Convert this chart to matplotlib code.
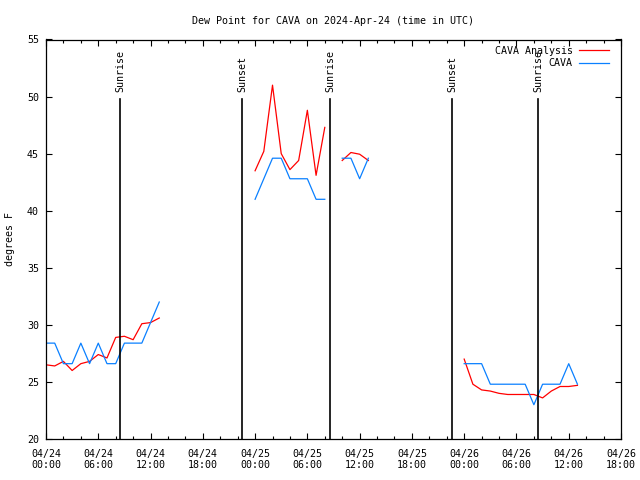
import numpy as np
import matplotlib
matplotlib.use("Agg")
import matplotlib.pyplot as plt
import matplotlib.transforms as mtransforms

# ================ Data (hours since 2024-04-24 00:00 UTC) ================
hours = [0, 1, 2, 3, 4, 5, 6, 7, 8, 9, 10, 11, 12, 13,
         24, 25, 26, 27, 28, 29, 30, 31, 32,
         34, 35, 36, 37,
         48, 49, 50, 51, 52, 53, 54, 55, 56, 57, 58, 59, 60, 61]

# segment ids: lines break between segments
segment = [0] * 14 + [1] * 9 + [2] * 4 + [3] * 14

cava_analysis = [26.5, 26.4, 26.8, 26.0, 26.6, 26.8, 27.4, 27.1, 28.9, 29.0, 28.7, 30.1, 30.2, 30.6,
                 43.5, 45.2, 51.0, 45.0, 43.6, 44.4, 48.8, 43.1, 47.3,
                 44.4, 45.1, 44.95, 44.4,
                 27.0, 24.8, 24.3, 24.2, 24.0, 23.9, 23.9, 23.9, 23.9, 23.6, 24.2, 24.6, 24.6, 24.7]

cava = [28.4, 28.4, 26.6, 26.6, 28.4, 26.6, 28.4, 26.6, 26.6, 28.4, 28.4, 28.4, 30.2, 32.0,
        41.0, 42.8, 44.6, 44.6, 42.8, 42.8, 42.8, 41.0, 41.0,
        44.6, 44.6, 42.8, 44.6,
        26.6, 26.6, 26.6, 24.8, 24.8, 24.8, 24.8, 24.8, 23.0, 24.8, 24.8, 24.8, 26.6, 24.8]

sun_events = [8.53, 22.55, 32.6, 46.64, 56.5]
sun_labels = ["Sunrise", "Sunset", "Sunrise", "Sunset", "Sunrise"]

xtick_hours = list(range(0, 67, 6))
xtick_labels = ["04/24\n00:00", "04/24\n06:00", "04/24\n12:00", "04/24\n18:00",
                "04/25\n00:00", "04/25\n06:00", "04/25\n12:00", "04/25\n18:00",
                "04/26\n00:00", "04/26\n06:00", "04/26\n12:00", "04/26\n18:00"]
yticks = [20, 25, 30, 35, 40, 45, 50, 55]

# ================ Plot ================
plt.rcParams['font.family'] = ['DejaVu Sans Mono']
FS = 7.2
RED = '#ff0000'
BLUE = '#0a80ff'

fig = plt.figure(figsize=(6.4, 4.8), dpi=100)
ax = fig.add_axes([46 / 640, 41 / 480, 575 / 640, 399.5 / 480])

hours_a = np.array(hours, dtype=float)
seg_a = np.array(segment)
ana_a = np.array(cava_analysis)
obs_a = np.array(cava)

for i, s in enumerate(np.unique(seg_a)):
    m = seg_a == s
    ax.plot(hours_a[m], ana_a[m], color=RED, lw=0.9,
            label='CAVA Analysis' if i == 0 else None)
    ax.plot(hours_a[m], obs_a[m], color=BLUE, lw=0.9,
            label='CAVA' if i == 0 else None)

# sunrise / sunset markers
trans = mtransforms.blended_transform_factory(ax.transData, ax.transAxes)
for h, lab in zip(sun_events, sun_labels):
    ax.plot([h, h], [0, 0.85], color='black', lw=1.2, transform=trans)
    ax.text(h, 0.868, lab, rotation=90, ha='center', va='bottom',
            fontsize=FS, transform=trans)

ax.set_xlim(0, 66)
ax.set_ylim(20, 55)
ax.set_xticks(xtick_hours)
ax.set_xticklabels(xtick_labels, fontsize=FS)
ax.set_xticks(range(0, 67, 2), minor=True)
ax.set_yticks(yticks)
ax.set_yticklabels([str(v) for v in yticks], fontsize=FS)
ax.tick_params(which='both', direction='in', top=True, right=True, width=0.8)
ax.tick_params(which='major', length=4)
ax.tick_params(which='minor', length=2.2)
ax.tick_params(axis='x', which='major', pad=7)
ax.tick_params(axis='y', which='major', pad=5)
for sp in ax.spines.values():
    sp.set_linewidth(0.9)

ax.set_ylabel('degrees F', fontsize=FS, labelpad=9)
ax.set_title('Dew Point for CAVA on 2024-Apr-24 (time in UTC)', fontsize=FS, pad=11)

ax.legend(loc='upper right', bbox_to_anchor=(0.984, 0.992), frameon=False,
          fontsize=FS, markerfirst=False,
          handlelength=3.0, handletextpad=0.6, labelspacing=0.25,
          borderaxespad=0.1, borderpad=0.2)

fig.savefig('out.png', dpi=100)
